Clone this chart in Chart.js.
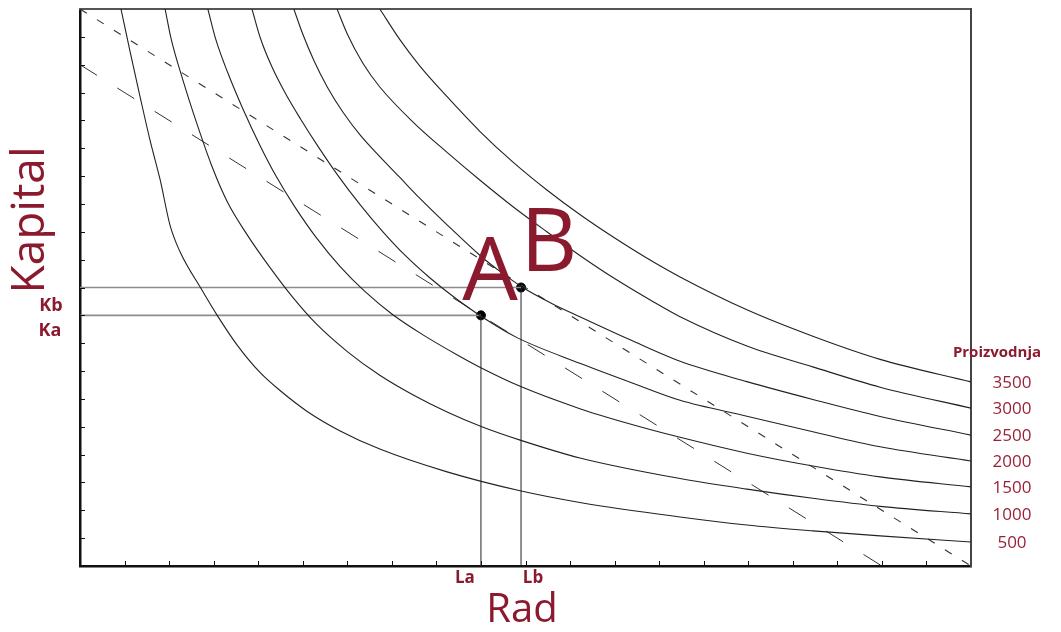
<!DOCTYPE html>
<html>
<head>
<meta charset="utf-8">
<script src="https://cdn.jsdelivr.net/npm/chart.js@4.4.1/dist/chart.umd.min.js"></script>
<style>
  html, body { margin: 0; padding: 0; background: #fff; }
  #wrap { width: 1061px; height: 632px; }
</style>
</head>
<body>
<div id="wrap"><canvas id="myChart" width="1061" height="632"></canvas></div>
<script>
// isoquante (Rad = L, Kapital = K), procitano sa slike
var proizvodnja = [500, 1000, 1500, 2000, 2500, 3000, 3500];

var q500L = [0.92, 1.14, 1.35, 1.57, 1.80, 2.02, 2.24, 2.74, 3.08, 3.52, 4.04, 4.49, 5.10, 5.84, 6.73, 8.24, 9.88, 11.22, 13.47, 14.97, 16.45, 17.96, 20];
var q500K = [20.0, 18.35, 16.84, 15.30, 13.86, 12.24, 11.30, 9.90, 9.00, 7.95, 6.95, 6.30, 5.55, 4.85, 4.20, 3.38, 2.70, 2.28, 1.76, 1.47, 1.26, 1.08, 0.86];

var q1000L = [1.91, 2.05, 2.30, 2.62, 2.95, 3.30, 3.75, 4.25, 4.75, 5.30, 6.00, 6.73, 7.47, 8.24, 9.02, 9.88, 11.22, 13.47, 14.97, 16.45, 17.96, 20];
var q1000K = [20.0, 18.90, 17.50, 15.90, 14.40, 13.10, 11.90, 10.75, 9.70, 8.70, 7.70, 6.85, 6.15, 5.53, 5.00, 4.52, 3.88, 3.14, 2.76, 2.43, 2.14, 1.87];

var q1500L = [2.87, 3.05, 3.32, 3.66, 4.04, 4.40, 4.80, 5.30, 5.84, 6.40, 7.00, 7.70, 8.50, 9.02, 9.88, 11.22, 12.35, 13.47, 14.97, 16.45, 17.96, 20];
var q1500K = [20.0, 18.90, 17.70, 16.40, 15.10, 14.00, 12.95, 11.80, 10.75, 9.85, 9.05, 8.30, 7.55, 7.10, 6.45, 5.65, 5.10, 4.62, 4.05, 3.59, 3.20, 2.84];

var q2000L = [3.86, 4.05, 4.30, 4.60, 4.95, 5.35, 5.80, 6.30, 6.80, 7.30, 7.85, 8.40, 9.02, 9.81, 11.22, 12.35, 13.47, 14.97, 16.45, 17.96, 20];
var q2000K = [20.0, 18.95, 17.95, 17.00, 16.05, 15.05, 14.00, 12.95, 12.00, 11.15, 10.35, 9.65, 8.95, 8.20, 7.28, 6.60, 5.95, 5.38, 4.82, 4.28, 3.77];

var q2500L = [4.80, 5.00, 5.25, 5.55, 5.90, 6.30, 6.73, 7.18, 7.63, 8.24, 8.98, 9.45, 9.92, 10.60, 11.22, 12.35, 13.47, 14.97, 16.45, 17.96, 20];
var q2500K = [20.0, 19.10, 18.15, 17.20, 16.30, 15.45, 14.70, 13.95, 13.20, 12.25, 11.15, 10.55, 10.02, 9.42, 8.95, 8.12, 7.35, 6.62, 5.98, 5.37, 4.70];

var q3000L = [5.77, 6.00, 6.35, 6.73, 7.47, 8.24, 8.98, 9.72, 10.48, 11.22, 12.00, 12.80, 13.47, 14.97, 16.45, 17.96, 20];
var q3000K = [20.0, 19.10, 18.05, 17.20, 15.95, 14.85, 13.85, 12.90, 12.00, 11.15, 10.32, 9.55, 8.95, 7.90, 7.15, 6.42, 5.67];

var q3500L = [6.73, 7.18, 7.63, 8.24, 8.98, 9.72, 10.48, 11.22, 11.96, 12.73, 13.47, 14.97, 16.45, 17.96, 20];
var q3500K = [20.0, 18.90, 17.95, 16.85, 15.60, 14.50, 13.50, 12.62, 11.82, 11.05, 10.38, 9.20, 8.25, 7.42, 6.61];

// izotroskovne linije (L, K krajnje tacke)
var trosakBL = [0, 20];
var trosakBK = [20, 0];
var trosakAL = [0, 18];
var trosakAK = [18, 0];

// optimalne kombinacije A i B
var tackeNazivi = ['A', 'B'];
var tackeL = [9.0, 9.9];
var tackeK = [9.0, 10.0];

var crvena = '#8b1a2e';

function parovi(xs, ys) {
  return xs.map(function (x, i) { return { x: x, y: ys[i] }; });
}

var krive = [
  [q500L, q500K], [q1000L, q1000K], [q1500L, q1500K], [q2000L, q2000K],
  [q2500L, q2500K], [q3000L, q3000K], [q3500L, q3500K]
];

var datasets = krive.map(function (k, i) {
  return {
    label: String(proizvodnja[i]),
    data: parovi(k[0], k[1]),
    borderColor: '#222',
    borderWidth: 1.1,
    pointRadius: 0,
    cubicInterpolationMode: 'monotone',
    fill: false
  };
});

datasets.push({
  label: 'trosak B',
  data: parovi(trosakBL, trosakBK),
  borderColor: '#333',
  borderWidth: 1.1,
  borderDash: [8, 12],
  pointRadius: 0
});
datasets.push({
  label: 'trosak A',
  data: parovi(trosakAL, trosakAK),
  borderColor: '#333',
  borderWidth: 1,
  borderDash: [20, 24],
  pointRadius: 0
});

// pomocne linije do osa
datasets.push({ label: 'Kb', data: [{ x: 0, y: tackeK[1] }, { x: tackeL[1], y: tackeK[1] }], borderColor: '#8c8c8c', borderWidth: 1.6, pointRadius: 0 });
datasets.push({ label: 'Ka', data: [{ x: 0, y: tackeK[0] }, { x: tackeL[0], y: tackeK[0] }], borderColor: '#8c8c8c', borderWidth: 1.6, pointRadius: 0 });
datasets.push({ label: 'La', data: [{ x: tackeL[0], y: 0 }, { x: tackeL[0], y: tackeK[0] }], borderColor: '#222', borderWidth: 1, pointRadius: 0 });
datasets.push({ label: 'Lb', data: [{ x: tackeL[1], y: 0 }, { x: tackeL[1], y: tackeK[1] }], borderColor: '#222', borderWidth: 1, pointRadius: 0 });

datasets.push({
  type: 'scatter',
  label: 'tacke',
  data: parovi(tackeL, tackeK),
  backgroundColor: '#000',
  borderColor: '#000',
  pointRadius: 4.5
});

const dekor = {
  id: 'dekor',
  afterDraw(chart) {
    const ctx = chart.ctx;
    const xs = chart.scales.x;
    const ys = chart.scales.y;
    const area = chart.chartArea;
    ctx.save();

    // kratke crtice prema unutra
    ctx.strokeStyle = '#111';
    ctx.lineWidth = 1;
    for (let v = 1; v < 20; v++) {
      const px = Math.round(xs.getPixelForValue(v)) + 0.5;
      ctx.beginPath();
      ctx.moveTo(px, area.bottom);
      ctx.lineTo(px, area.bottom - 5);
      ctx.stroke();
      const py = Math.round(ys.getPixelForValue(v)) + 0.5;
      ctx.beginPath();
      ctx.moveTo(area.left, py);
      ctx.lineTo(area.left + 5, py);
      ctx.stroke();
    }

    ctx.fillStyle = crvena;
    ctx.textAlign = 'center';
    ctx.textBaseline = 'middle';

    // Kapital (vertikalno)
    ctx.save();
    ctx.translate(31, 220);
    ctx.rotate(-Math.PI / 2);
    ctx.font = '46px "Open Sans", "Noto Sans", sans-serif';
    ctx.fillText('Kapital', 0, 0);
    ctx.restore();

    ctx.font = 'bold 18px "Open Sans", "Noto Sans", sans-serif';
    ctx.fillText('Kb', 51, ys.getPixelForValue(tackeK[1]) + 18);
    ctx.fillText('Ka', 50, ys.getPixelForValue(tackeK[0]) + 16);

    ctx.font = 'bold 17px "Open Sans", "Noto Sans", sans-serif';
    ctx.fillText('La', xs.getPixelForValue(tackeL[0]) - 16, area.bottom + 12);
    ctx.fillText('Lb', xs.getPixelForValue(tackeL[1]) + 12, area.bottom + 12);

    ctx.font = '40px "Open Sans", "Noto Sans", sans-serif';
    ctx.fillText('Rad', 522, 611);

    ctx.textBaseline = 'alphabetic';
    ctx.font = '88px "Open Sans", "Noto Sans", sans-serif';
    ctx.fillText(tackeNazivi[0], xs.getPixelForValue(tackeL[0]) + 9, ys.getPixelForValue(tackeK[0]) - 15);
    ctx.fillText(tackeNazivi[1], xs.getPixelForValue(tackeL[1]) + 28, ys.getPixelForValue(tackeK[1]) - 17);

    ctx.textBaseline = 'middle';
    ctx.font = 'bold 15px "Open Sans", "Noto Sans", sans-serif';
    ctx.fillText('Proizvodnja', 997, 353);

    ctx.font = '17px "Open Sans", "Noto Sans", sans-serif';
    ctx.fillStyle = '#9a2238';
    krive.forEach(function (k, i) {
      const lastK = k[1][k[1].length - 1];
      ctx.fillText(String(proizvodnja[i]), 1012, ys.getPixelForValue(lastK) + 1);
    });

    ctx.restore();
  }
};

var ctx2 = document.getElementById('myChart');

const config = {
  type: 'line',
  data: { datasets: datasets },
  options: {
    responsive: false,
    animation: false,
    events: [],
    layout: { padding: { left: 80, right: 90, top: 9, bottom: 66 } },
    plugins: { legend: { display: false }, tooltip: { enabled: false } },
    scales: {
      x: {
        type: 'linear', position: 'bottom', min: 0, max: 20,
        grid: { display: false, drawTicks: false },
        ticks: { display: false },
        border: { display: true, color: '#111', width: 2.5 }
      },
      y: {
        type: 'linear', position: 'left', min: 0, max: 20,
        grid: { display: false, drawTicks: false },
        ticks: { display: false },
        border: { display: true, color: '#111', width: 2.5 }
      },
      x2: {
        type: 'linear', position: 'top', min: 0, max: 20,
        grid: { display: false, drawTicks: false },
        ticks: { display: false },
        border: { display: true, color: '#555', width: 2 }
      },
      y2: {
        type: 'linear', position: 'right', min: 0, max: 20,
        grid: { display: false, drawTicks: false },
        ticks: { display: false },
        border: { display: true, color: '#444', width: 2 }
      }
    }
  },
  plugins: [dekor]
};

const myChart = new Chart(ctx2, config);
</script>
</body>
</html>
